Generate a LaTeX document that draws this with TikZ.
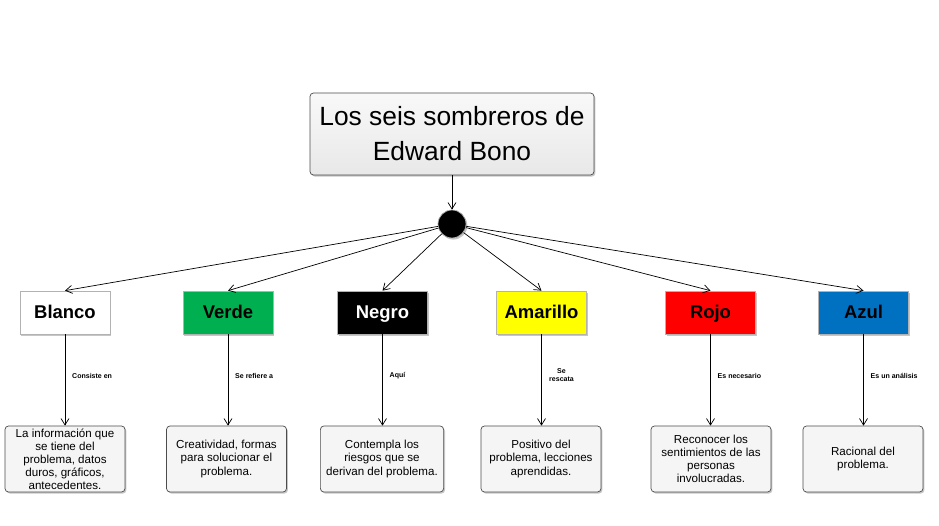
\documentclass[tikz,border=0pt]{standalone}
\usepackage{fontspec}
\setmainfont{Liberation Sans}
\usetikzlibrary{shadows,arrows.meta}

\definecolor{verdeH}{RGB}{0,176,80}
\definecolor{amarilloH}{RGB}{255,255,0}
\definecolor{rojoH}{RGB}{255,0,0}
\definecolor{azulH}{RGB}{0,112,192}

\begin{document}
\begin{tikzpicture}[
    shadowed/.style={drop shadow={opacity=0.45, shadow xshift=0.8pt, shadow yshift=-0.9pt}},
    title/.style={draw=black!70, rounded corners=2pt, top color=gray!5, bottom color=gray!18, shadowed,
                  minimum width=5.68cm, minimum height=1.64cm, align=center, font=\fontsize{15}{20}\selectfont},
    hat/.style={draw=gray!60, minimum width=1.8cm, minimum height=0.86cm, shadowed, text height=0.72em,
                text depth=0.04em, font=\fontsize{10.5}{12}\selectfont\bfseries},
    desc/.style={draw=black!70, rounded corners=2pt, fill=gray!8, shadowed, minimum width=2.4cm,
                 minimum height=1.32cm, inner ysep=0.5pt, align=center, font=\fontsize{6.6}{7.4}\selectfont},
    lbl/.style={anchor=west, align=left, font=\fontsize{4}{5}\selectfont\bfseries},
    arr/.style={-{Straight Barb[length=1.3mm,width=1.6mm]}, black, thin}
]
\useasboundingbox (0,0) rectangle (18.78,10.5);

\node (title) at (9.04,7.82) [title] {Los seis sombreros de\\Edward Bono};
\node (dot) at (9.04,6.02) [circle, fill=black, draw=gray!60, minimum size=0.56cm, inner sep=0pt, shadowed] {};
\draw[arr] (title) -- (dot);

% sombreros
\node (blanco) at (1.30,4.25) [hat, fill=white] {Blanco};
\node (verde) at (4.56,4.25) [hat, fill=verdeH] {Verde};
\node (negro) at (7.65,4.25) [hat, fill=black, text=white] {Negro};
\node (amarillo) at (10.83,4.25) [hat, fill=amarilloH] {Amarillo};
\node (rojo) at (14.21,4.25) [hat, fill=rojoH] {Rojo};
\node (azul) at (17.27,4.25) [hat, fill=azulH] {Azul};

% descripciones
\node (dblanco) at (1.30,1.32) [desc] {La información que\\se tiene del\\problema, datos\\duros, gráficos,\\antecedentes.};
\node (dverde) at (4.53,1.32) [desc] {Creatividad, formas\\para solucionar el\\problema.};
\node (dnegro) at (7.64,1.32) [desc] {Contempla los\\riesgos que se\\derivan del problema.};
\node (damarillo) at (10.82,1.32) [desc] {Positivo del\\problema, lecciones\\aprendidas.};
\node (drojo) at (14.22,1.32) [desc] {Reconocer los\\sentimientos de las\\personas\\involucradas.};
\node (dazul) at (17.26,1.32) [desc] {Racional del\\problema.};

\foreach \h in {blanco,verde,negro,amarillo,rojo,azul}{
    \draw[arr] (dot) -- (\h.north);
    \draw[arr] (\h.south) -- (d\h.north -| \h.south);
}

% conectores
\node (lblanco) at (1.32,2.98) [lbl] {Consiste en};
\node (lverde) at (4.58,2.98) [lbl] {Se refiere a};
\node (lnegro) at (7.67,2.98) [lbl] {Aquí};
\node (lamarillo) at (10.86,3.00) [lbl, align=center] {Se\\rescata};
\node (lrojo) at (14.23,2.98) [lbl] {Es necesario};
\node (lazul) at (17.29,2.98) [lbl] {Es un análisis};
\end{tikzpicture}
\end{document}
